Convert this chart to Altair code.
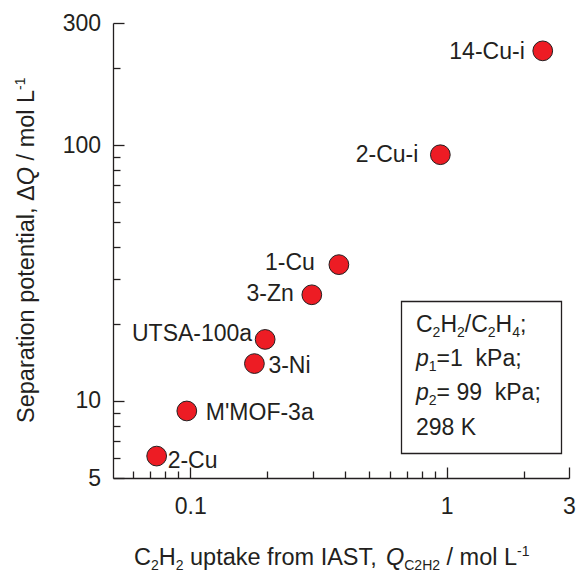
import altair as alt
import pandas as pd

# ---- data -------------------------------------------------------------
materials = ["14-Cu-i", "2-Cu-i", "1-Cu", "3-Zn", "UTSA-100a", "3-Ni", "M'MOF-3a", "2-Cu"]
uptake = [2.37, 0.945, 0.380, 0.298, 0.196, 0.178, 0.097, 0.074]        # Q_C2H2 / mol L-1
separation = [233.5, 91.7, 34.1, 26.0, 17.4, 14.0, 9.14, 6.09]         # dQ / mol L-1

x_major = [0.1, 1, 3]
x_minor = [0.06, 0.07, 0.08, 0.09, 0.2, 0.3, 0.4, 0.5, 0.6, 0.7, 0.8, 0.9, 2]
y_major = [5, 10, 100, 300]
y_minor = [6, 7, 8, 9, 20, 30, 40, 50, 60, 70, 80, 90, 200]

df = pd.DataFrame({"material": materials, "uptake": uptake, "separation": separation})

# ---- style ------------------------------------------------------------
FONT = "Liberation Sans"
INK = "#231f20"
RED = "#ed1c24"
LEFT, TOP, PLOT_W, PLOT_H = 113, 23, 456, 455
TOTAL_W, TOTAL_H = 578, 572
TICK_FS = 23
LABEL_FS = 23
TITLE_FS = 23.5
BOX_FS = 23
SCRIPT_FS = 14

# label placement per material: (align, dx, dy)
label_place = {
    "14-Cu-i": ("right", -18, 1),
    "2-Cu-i": ("right", -22, 0),
    "1-Cu": ("right", -24, -2),
    "3-Zn": ("right", -18, -1),
    "UTSA-100a": ("right", -13, -5),
    "3-Ni": ("left", 14, 2),
    "M'MOF-3a": ("left", 19, 2),
    "2-Cu": ("left", 11, 5),
}

# Arial / Liberation Sans advance widths (1/1000 em) for composing rich text runs
ADV = {" ": 278, "\u00a0": 278, ",": 278, "-": 333, ".": 278, "/": 278, ";": 278,
       "=": 584, "'": 191, "A": 667, "C": 722, "H": 722, "I": 278, "K": 667,
       "L": 556, "P": 667, "Q": 778, "S": 667, "T": 611, "a": 556, "e": 556,
       "f": 278, "i": 222, "k": 500, "l": 222, "m": 833, "n": 556, "o": 556,
       "p": 556, "r": 333, "t": 278, "u": 556, "\u0394": 668}
for d in "0123456789":
    ADV[d] = 556


def text_width(s, size):
    return sum(ADV.get(ch, 556) for ch in s) * size / 1000.0


def lay_runs(runs, x0, y0, main_fs, angle=0):
    """Place (text, kind) runs one after another; kind: main, ital, sub, sup.
    Leading/trailing blanks only advance the pen; inner blanks are kept as NBSP."""
    out, pos = [], 0.0
    for text, kind in runs:
        size = main_fs if kind in ("main", "ital") else SCRIPT_FS
        shift = {"sub": 5, "sup": -9}.get(kind, 0)
        lead = len(text) - len(text.lstrip(" "))
        core = text.strip(" ").replace(" ", "\u00a0")
        start = pos + text_width(" " * lead, size)
        if core:
            if angle == 0:
                x, y = x0 + start, y0 + shift
            else:
                x, y = x0 + shift, y0 - start
            out.append(dict(text=core, x=x, y=y, size=size,
                            style="italic" if kind == "ital" else "normal", angle=angle))
        pos += text_width(text, size)
    return out


def run_layers(runs):
    layers = []
    for r in runs:
        layers.append(
            alt.Chart(alt.Data(values=[{}]))
            .mark_text(text=r["text"], align="left", baseline="alphabetic",
                       font=FONT, fontSize=r["size"], fontStyle=r["style"],
                       angle=r["angle"], color=INK)
            .encode(x=alt.value(r["x"] - LEFT), y=alt.value(r["y"] - TOP))
        )
    return layers


# ---- axes -------------------------------------------------------------
def make_axis(major, minor, pad):
    vals = sorted(major + minor)
    test = "indexof(" + str(major) + ", datum.value) >= 0"
    return alt.Axis(
        values=vals,
        labelExpr=test + " ? '' + datum.value : ''",
        tickSize=alt.ExprRef(expr=test + " ? -11 : -7"),
        labelPadding=pad,
        labelFont=FONT, labelFontSize=TICK_FS, labelColor=INK,
        labelFlush=False, labelOverlap=False,
        domainColor=INK, domainWidth=1.3, tickColor=INK, tickWidth=1.3,
        grid=False, title=None,
    )


x_enc = alt.X("uptake:Q", scale=alt.Scale(type="log", domain=[0.05, 3]),
              axis=make_axis(x_major, x_minor, 28))
y_enc = alt.Y("separation:Q", scale=alt.Scale(type="log", domain=[5, 300]),
              axis=make_axis(y_major, y_minor, 23.5))

base = alt.Chart(df)

label_layers = []
for name, (align, dx, dy) in label_place.items():
    label_layers.append(
        base.transform_filter(alt.datum.material == name)
        .mark_text(align=align, baseline="middle", dx=dx, dy=dy,
                   font=FONT, fontSize=LABEL_FS, color=INK)
        .encode(x=x_enc, y=y_enc, text="material:N")
    )

points = base.mark_circle(size=390, color=RED, opacity=1, stroke=INK,
                          strokeWidth=1).encode(x=x_enc, y=y_enc)

# ---- titles and condition box ----------------------------------------
x_title = lay_runs([("C", "main"), ("2", "sub"), ("H", "main"), ("2", "sub"),
                    (" uptake from IAST, ", "main"), ("Q", "ital"),
                    ("C2H2", "sub"), (" / mol L", "main"), ("-1", "sup")],
                   134, 565, TITLE_FS)
y_title = lay_runs([("Separation potential, ", "main"), ("\u0394", "main"),
                    ("Q", "ital"), (" / mol L", "main"), ("-1", "sup")],
                   34, 423, TITLE_FS, angle=270)

BOX = (401.5, 301.5, 561.5, 453.5)
box_x = 416
box_lines = [
    [("C", "main"), ("2", "sub"), ("H", "main"), ("2", "sub"), ("/C", "main"),
     ("2", "sub"), ("H", "main"), ("4", "sub"), (";", "main")],
    [("p", "ital"), ("1", "sub"), ("=1  kPa;", "main")],
    [("p", "ital"), ("2", "sub"), ("= 99  kPa;", "main")],
    [("298 K", "main")],
]
box_baselines = [332, 366, 400, 435]
box_runs = []
for line, yb in zip(box_lines, box_baselines):
    box_runs += lay_runs(line, box_x, yb, BOX_FS)

frame = (
    alt.Chart(alt.Data(values=[{}]))
    .mark_rect(fill="white", stroke=INK, strokeWidth=1.3)
    .encode(x=alt.value(BOX[0] - LEFT), x2=alt.value(BOX[2] - LEFT),
            y=alt.value(BOX[1] - TOP), y2=alt.value(BOX[3] - TOP))
)

chart = (
    alt.layer(*label_layers, points, frame,
              *run_layers(x_title + y_title + box_runs))
    .properties(
        width=PLOT_W, height=PLOT_H,
        autosize=alt.AutoSizeParams(type="none"),
        padding={"left": LEFT, "top": TOP,
                 "right": TOTAL_W - LEFT - PLOT_W, "bottom": TOTAL_H - TOP - PLOT_H},
        background="white",
    )
    .configure_view(stroke=None)
)

chart.save("out.html", embed_options={"renderer": "svg", "actions": False})
